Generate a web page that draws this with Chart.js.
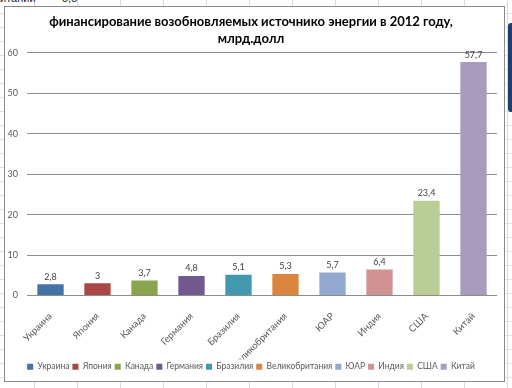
<!DOCTYPE html>
<html>
<head>
<meta charset="utf-8">
<script src="https://cdn.jsdelivr.net/npm/chart.js@4.4.0/dist/chart.umd.min.js"></script>
<style>
  html, body { margin: 0; padding: 0; }
  body {
    width: 512px; height: 388px; overflow: hidden; position: relative;
    background-color: #fff;
    background-image:
      repeating-linear-gradient(to right, transparent 0, transparent 34px, #d9d9d9 34px, #d9d9d9 35px, transparent 35px, transparent 43px),
      repeating-linear-gradient(to bottom, transparent 0, transparent 13px, #e3e3e3 13px, #e3e3e3 14px);
    font-family: "Liberation Sans", sans-serif;
  }
  .cell { position: absolute; top: -8px; font-size: 11px; color: #222; }
  #frame {
    position: absolute; left: 4px; top: 6px; width: 499px; height: 374px;
    border: 1px solid #8a8a8a; background: #fff;
  }
  #blue {
    position: absolute; left: 508px; top: 23px; width: 8px; height: 89px;
    background: #1c3f70; border-radius: 3px 0 0 3px;
  }
  canvas { display: block; }
</style>
</head>
<body>
<div class="cell" style="left:0">итании</div>
<div class="cell" style="left:62px">5,5</div>
<div id="frame"><canvas id="myChart" width="499" height="374"></canvas></div>
<div id="blue"></div>
<script>
const countries = ['Украина', 'Япония', 'Канада', 'Германия', 'Бразилия', 'Великобритания', 'ЮАР', 'Индия', 'США', 'Китай']
const values = [2.8, 3, 3.7, 4.8, 5.1, 5.3, 5.7, 6.4, 23.4, 57.7]
const colors = ['#4572A7', '#AA4643', '#89A54E', '#71588F', '#4198AF', '#DB843D', '#93A9CF', '#D19392', '#B9CD96', '#A99BBD']
const yTicks = [0, 10, 20, 30, 40, 50, 60]
const titleLines = ['финансирование возобновляемых источнико энергии в 2012 году,', 'млрд.долл']

const font = 'Lato'
const grey = '#595959'

// подписи значений над столбиками
const valueLabels = {
  id: 'valueLabels',
  afterDatasetsDraw(chart) {
    const ctx = chart.ctx
    const meta = chart.getDatasetMeta(0)
    ctx.save()
    ctx.font = '9px ' + font
    ctx.fillStyle = '#404040'
    ctx.textAlign = 'center'
    ctx.textBaseline = 'bottom'
    meta.data.forEach((bar, i) => {
      ctx.fillText(String(values[i]).replace('.', ','), bar.x, bar.y - 3)
    })
    ctx.restore()
  }
}

const chr = document.getElementById('myChart')
const myChart = new Chart(chr, {
  type: 'bar',
  data: {
    labels: countries,
    datasets: [{
      label: 'млрд.долл',
      data: values,
      backgroundColor: colors,
      borderColor: colors,
      borderWidth: 0,
      barPercentage: 0.56,
      categoryPercentage: 1
    }]
  },
  options: {
    responsive: false,
    animation: false,
    layout: { padding: { left: 0, right: 7, top: 0, bottom: 0 } },
    plugins: {
      title: {
        display: true,
        text: titleLines,
        color: '#000',
        font: { family: font, size: 13, weight: 'bold', lineHeight: 1.3 },
        padding: { top: 6, bottom: 6 }
      },
      legend: {
        position: 'bottom',
        onClick: null,
        labels: {
          color: grey,
          font: { family: font, size: 8.5 },
          boxWidth: 6,
          boxHeight: 6,
          padding: 3,
          generateLabels: () => countries.map((c, i) => ({
            text: c,
            fillStyle: colors[i],
            strokeStyle: colors[i],
            lineWidth: 0,
            hidden: false,
            index: i,
            fontColor: grey
          }))
        }
      },
      tooltip: { enabled: false }
    },
    scales: {
      x: {
        grid: { display: false },
        border: { display: false },
        ticks: {
          color: grey,
          font: { family: font, size: 9.5 },
          minRotation: 45,
          maxRotation: 45,
          padding: 7
        },
        afterFit(scale) { scale.height = 64 }
      },
      y: {
        min: 0,
        max: 60,
        afterBuildTicks(scale) { scale.ticks = yTicks.map(v => ({ value: v })) },
        grid: { color: '#8c8c8c', drawTicks: false },
        border: { display: false },
        ticks: {
          color: grey,
          font: { family: font, size: 9 },
          padding: 9
        },
        afterFit(scale) { scale.width = 22 }
      }
    }
  },
  plugins: [valueLabels]
})
</script>
</body>
</html>
